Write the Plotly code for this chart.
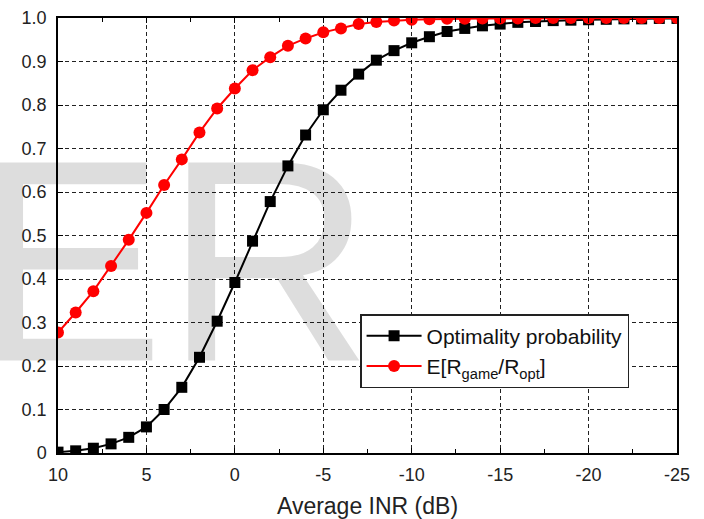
import plotly.graph_objects as go

# ---- data ----
inr_db = [10, 9, 8, 7, 6, 5, 4, 3, 2, 1, 0, -1, -2, -3, -4, -5, -6, -7, -8, -9,
          -10, -11, -12, -13, -14, -15, -16, -17, -18, -19, -20, -21, -22, -23, -24, -25]
optimality_prob = [0.002, 0.005, 0.011, 0.021, 0.036, 0.060, 0.100, 0.151, 0.220, 0.303,
                   0.392, 0.487, 0.578, 0.660, 0.731, 0.789, 0.834, 0.871, 0.903, 0.925,
                   0.943, 0.957, 0.969, 0.976, 0.982, 0.986, 0.990, 0.992, 0.994, 0.995,
                   0.996, 0.997, 0.998, 0.998, 0.999, 0.999]
rate_ratio = [0.277, 0.323, 0.372, 0.430, 0.490, 0.552, 0.616, 0.675, 0.737, 0.792,
              0.838, 0.880, 0.910, 0.936, 0.953, 0.967, 0.976, 0.986, 0.991, 0.994,
              0.996, 0.997, 0.998, 0.998, 0.999, 0.999, 0.999, 1.0, 1.0, 1.0,
              1.0, 1.0, 1.0, 1.0, 1.0, 1.0]
x_ticks = [10, 5, 0, -5, -10, -15, -20, -25]
x_labels = ["10", "5", "0", "-5", "-10", "-15", "-20", "-25"]
y_ticks = [0, 0.1, 0.2, 0.3, 0.4, 0.5, 0.6, 0.7, 0.8, 0.9, 1.0]
y_labels = ["0", "0.1", "0.2", "0.3", "0.4", "0.5", "0.6", "0.7", "0.8", "0.9", "1.0"]
watermark_text = "ER"
watermark_pos = [3.52, 0.378]

FONT = "Liberation Sans, Arial, sans-serif"

fig = go.Figure()

# watermark (semi-transparent so gridlines show through)
fig.add_trace(go.Scatter(
    x=[watermark_pos[0]], y=[watermark_pos[1]], mode="text", text=[watermark_text],
    textposition="middle center", cliponaxis=False, showlegend=False, hoverinfo="skip",
    textfont=dict(family=FONT, size=288, color="rgba(0,0,0,0.135)")))

fig.add_trace(go.Scatter(
    x=inr_db, y=optimality_prob, mode="lines+markers", name="Optimality probability",
    line=dict(color="black", width=2),
    marker=dict(symbol="square", size=11, color="black")))

fig.add_trace(go.Scatter(
    x=inr_db, y=rate_ratio, mode="lines+markers",
    name="E[R<sub>game</sub>/R<sub>opt</sub>]",
    line=dict(color="#ff0000", width=2),
    marker=dict(symbol="circle", size=12, color="#ff0000")))

axis_common = dict(
    showline=True, linecolor="black", linewidth=1.5, mirror="ticks",
    ticks="inside", ticklen=5, tickcolor="black", tickwidth=1,
    showgrid=True, gridcolor="#222222", gridwidth=1, griddash="4px,3px",
    zeroline=False, automargin=False,
    tickfont=dict(family=FONT, size=18, color="#222222"),
)

fig.update_xaxes(
    range=[10, -25], tickvals=x_ticks, ticktext=x_labels,
    minor=dict(ticks="inside", dtick=2.5, ticklen=4, tickcolor="black", showgrid=False),
    title=dict(text="Average INR (dB)", font=dict(family=FONT, size=23, color="#222222"), standoff=15),
    ticklabelstandoff=5,
    **axis_common)
fig.update_yaxes(
    range=[0, 1], tickvals=y_ticks, ticktext=y_labels,
    ticklabelstandoff=6,
    **axis_common)

fig.update_layout(
    width=704, height=519,
    margin=dict(l=58, r=27, t=18, b=66),
    paper_bgcolor="white", plot_bgcolor="white",
    font=dict(family=FONT, color="#222222"),
    legend=dict(x=0.488, y=0.3195, xanchor="left", yanchor="top",
                bgcolor="white", bordercolor="#222222", borderwidth=1.5,
                font=dict(family=FONT, size=21, color="#111111"),
                itemwidth=55, tracegroupgap=0),
    showlegend=True,
)

fig.write_html("out.html", config={"displayModeBar": False},
               post_script="document.body.style.margin='0';document.body.style.padding='0';")
